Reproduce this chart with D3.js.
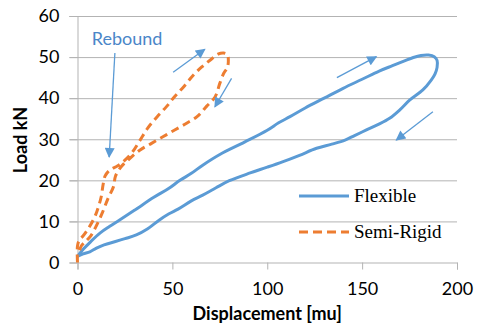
<!DOCTYPE html>
<html><head><meta charset="utf-8">
<script src="https://cdn.jsdelivr.net/npm/d3@7"></script>
<style>body{margin:0;background:#fff}svg{display:block}</style>
</head><body>
<svg id="c" width="484" height="324"></svg>
<script>
const xTicks = [0, 50, 100, 150, 200];
const yTicks = [0, 10, 20, 30, 40, 50, 60];
const seriesNames = ["Flexible", "Semi-Rigid"];
const flexDisp = [0,3,7,12,17,22,30,40,48,54,60,66,75,88,100,106,112,120,130,140,150,159,166,172,177,181,185,188,189.5,189.5,188.5,186.4,182,175,170,164.5,158,152,146,141,134,126,117,108,100,91,80,73,66,60,53,48,43,37,31,25,20,14,10,6.5,3,0];
const flexLoad = [1.5,3.2,5.1,7.2,8.8,10.3,12.7,15.8,18,20,21.7,23.7,26.3,29.3,32.2,34,35.5,37.6,40,42.4,44.6,46.6,47.9,49,49.9,50.4,50.5,50.1,49.2,47.5,46,44.4,42,39.5,37.2,35.1,33.5,32.2,30.9,29.8,28.8,27.8,26.1,24.5,23.2,21.8,19.9,18.2,16.4,15,13,11.8,10.3,8.2,6.7,5.8,5.1,4.3,3.5,2.6,2.1,1.5];
const semiDisp = [0,0,1,3,6,9,11,12.5,13.5,14.5,17,21,24,28.5,33,37,42,47,51,56,61,65.5,70,74,77,79,79.5,79,77,75,72.5,68,63,57.5,51,45,39,33,27.5,23,20,19,16,13,10,7,4,2,0.5];
const semiLoad = [0,4,5.5,6.5,8.5,11,13.5,16,19,21,22.5,23.5,24.5,26.6,29.8,32.7,35.5,38,40.3,42.8,45.6,47.6,49.3,50.7,51,50.6,49.2,47.5,46,43.6,40.3,38,35.5,33.9,32.2,30.6,29,27.4,25.3,23.3,21,18.5,15.5,12,9,6.5,5,4,2];
const arrowFrom = [[19.7,51],[50.4,46.3],[81.2,44.8],[136.7,45],[187.3,36.7]];
const arrowTo = [[16.7,25.7],[67.1,51.9],[72.4,37.9],[157.5,50.1],[168,29.8]];
const reboundLabel = {text:"Rebound", d:7.5, l:52.9};

const svg = d3.select("#c");
const x = d3.scaleLinear().domain([0,200]).range([77.5,457]);
const y = d3.scaleLinear().domain([0,60]).range([262.5,16]);
const blue = "#5b9bd5", orange = "#ed7d31", grid = "#b3b3b3";
const sans = "Lato, 'Open Sans', sans-serif";

// gridlines
svg.append("g").selectAll("line").data(yTicks.filter(t=>t>0)).join("line")
  .attr("x1", x(0)-8).attr("x2", x(200)).attr("y1", d=>y(d)+0.5).attr("y2", d=>y(d)+0.5)
  .attr("stroke", grid).attr("stroke-width",1);

// y axis
const yAxis = svg.append("g").attr("transform",`translate(${x(0)},0)`)
  .call(d3.axisLeft(y).tickValues(yTicks).tickSize(8).tickPadding(10));
yAxis.select(".domain").attr("stroke", grid);
yAxis.selectAll(".tick line").attr("stroke", grid);
yAxis.selectAll("text").attr("font-family",sans).attr("font-size",18).attr("fill","#000");

// x axis
const xAxis = svg.append("g").attr("transform",`translate(0,${y(0)})`)
  .call(d3.axisBottom(x).tickValues(xTicks).tickSize(7).tickPadding(13));
xAxis.select(".domain").attr("stroke", grid);
xAxis.selectAll(".tick line").attr("stroke", grid);
xAxis.selectAll("text").attr("font-family",sans).attr("font-size",18).attr("fill","#000");

// titles
svg.append("text").attr("x", (x(0)+x(200))/2).attr("y", 320).attr("text-anchor","middle")
  .attr("font-family",sans).attr("font-weight","bold").attr("font-size",18)
  .text("Displacement [mu]");
svg.append("text").attr("transform","translate(27,140) rotate(-90)").attr("text-anchor","middle")
  .attr("font-family",sans).attr("font-weight","bold").attr("font-size",18)
  .text("Load kN");

const line = d3.line().x(d=>x(d[0])).y(d=>y(d[1])).curve(d3.curveCatmullRom.alpha(0.5));
const flex = flexDisp.map((d,i)=>[d, flexLoad[i]]);
const semi = semiDisp.map((d,i)=>[d, semiLoad[i]]);

svg.append("path").attr("d", line(flex)).attr("fill","none").attr("stroke",blue).attr("stroke-width",3).attr("stroke-linejoin","round");
svg.append("path").attr("d", line(semi)).attr("fill","none").attr("stroke",orange).attr("stroke-width",3).attr("stroke-dasharray","8,5");

// arrows
const defs = svg.append("defs");
defs.append("marker").attr("id","ah").attr("viewBox","0 0 10 10").attr("refX",9).attr("refY",5)
  .attr("markerWidth",11).attr("markerHeight",10).attr("markerUnits","userSpaceOnUse").attr("orient","auto")
  .append("path").attr("d","M0,0 L10,5 L0,10 Z").attr("fill",blue);
svg.append("g").selectAll("line").data(arrowFrom).join("line")
  .attr("x1", d=>x(d[0])).attr("y1", d=>y(d[1]))
  .attr("x2", (d,i)=>x(arrowTo[i][0])).attr("y2", (d,i)=>y(arrowTo[i][1]))
  .attr("stroke", blue).attr("stroke-width",1.3).attr("marker-end","url(#ah)");

svg.append("text").attr("x", x(reboundLabel.d)).attr("y", y(reboundLabel.l))
  .attr("font-family",sans).attr("font-size",18).attr("fill","#4a86c8")
  .text(reboundLabel.text);

// legend
const lg = svg.append("g");
seriesNames.forEach((n,i)=>{
  const yy = 196 + i*36;
  lg.append("line").attr("x1",299).attr("x2",349).attr("y1",yy).attr("y2",yy)
    .attr("stroke", i===0?blue:orange).attr("stroke-width",3).attr("stroke-dasharray", i===0?null:"9,5");
  lg.append("text").attr("x",354).attr("y",yy+6).attr("font-family","'Liberation Serif', serif")
    .attr("font-size",19).attr("fill","#000").text(n);
});
</script>
</body></html>
